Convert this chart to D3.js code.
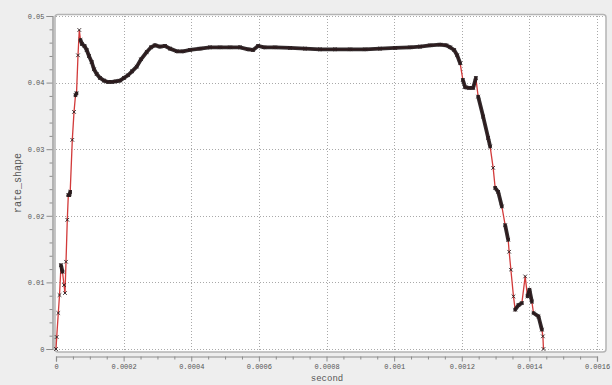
<!DOCTYPE html>
<html>
<head>
<meta charset="utf-8">
<script src="https://cdn.jsdelivr.net/npm/d3@7/dist/d3.min.js"></script>
<style>
  html, body { margin: 0; padding: 0; background: #eeeeee; }
  svg { display: block; }
</style>
</head>
<body>
<svg id="chart" width="612" height="385"></svg>
<script>
// Sample times (seconds) of the rate shape trace
const timeSec = [
  0, 2.1e-6, 6.8e-6, 10.4e-6, 14.8e-6, 19.2e-6, 23.7e-6, 26.6e-6, 29.6e-6, 33.4e-6,
  36.4e-6, 39.3e-6, 42.0e-6, 48.2e-6, 53.3e-6, 57.7e-6, 60.7e-6, 65.1e-6, 68.9e-6, 72.5e-6,
  76.9e-6, 84.3e-6, 90.8e-6, 97.6e-6, 105.6e-6, 112.4e-6, 120.4e-6, 130.2e-6, 142.0e-6, 153.8e-6,
  165.7e-6, 177.5e-6, 189.3e-6, 201.2e-6, 213.0e-6, 224.9e-6, 238.8e-6, 251.5e-6, 268.3e-6, 281.1e-6,
  292.9e-6, 307.7e-6, 322.5e-6, 337.3e-6, 357.1e-6, 375.7e-6, 396.4e-6, 426.0e-6, 455.6e-6, 485.2e-6,
  514.8e-6, 544.4e-6, 568.1e-6, 582.8e-6, 597.6e-6, 615.4e-6, 647.9e-6, 692.3e-6, 736.7e-6, 781.1e-6,
  825.5e-6, 869.8e-6, 914.2e-6, 958.6e-6, 1003.0e-6, 1047.3e-6, 1076.9e-6, 1106.5e-6, 1136.1e-6, 1153.8e-6,
  1165.7e-6, 1177.5e-6, 1186.4e-6, 1195.3e-6, 1203.3e-6, 1210.1e-6, 1221.9e-6, 1233.7e-6, 1241.7e-6, 1248.5e-6,
  1263.3e-6, 1278.1e-6, 1284.0e-6, 1292.9e-6, 1298.8e-6, 1307.7e-6, 1318.6e-6, 1328.4e-6, 1337.3e-6, 1340.2e-6,
  1345.3e-6, 1353.0e-6, 1358.0e-6, 1367.8e-6, 1377.8e-6, 1387.6e-6, 1394.4e-6, 1400.3e-6, 1407.4e-6, 1412.2e-6,
  1426.9e-6, 1437.0e-6, 1440.0e-6, 1441.7e-6
];

// Rate shape values at those times
const rateShape = [
  0, 0.0018, 0.0054, 0.0081, 0.0126, 0.0116, 0.0096, 0.0084, 0.0131, 0.0194,
  0.0231, 0.0231, 0.0236, 0.0314, 0.0356, 0.0381, 0.0384, 0.0441, 0.0479, 0.0464,
  0.0458, 0.0455, 0.0449, 0.0440, 0.0431, 0.0420, 0.0413, 0.0407, 0.0403, 0.0401,
  0.0401, 0.0402, 0.0403, 0.0407, 0.0411, 0.0417, 0.0424, 0.0435, 0.0446, 0.0453,
  0.0456, 0.0454, 0.0455, 0.0451, 0.0447, 0.0447, 0.0449, 0.0451, 0.0453, 0.0453,
  0.0453, 0.0453, 0.0450, 0.0449, 0.0455, 0.0453, 0.0453, 0.0452, 0.0451, 0.0450,
  0.0450, 0.0450, 0.0450, 0.0451, 0.0452, 0.0453, 0.0454, 0.0456, 0.0457, 0.0456,
  0.0453, 0.0449, 0.0441, 0.0429, 0.0404, 0.0393, 0.0392, 0.0392, 0.0407, 0.0379,
  0.0349, 0.0317, 0.0304, 0.0272, 0.0242, 0.0236, 0.0214, 0.0186, 0.0164, 0.0146,
  0.0119, 0.0079, 0.0059, 0.0066, 0.0069, 0.0109, 0.0079, 0.0089, 0.0071, 0.0054,
  0.0049, 0.0029, 0.0019, 0
];

// Axis ticks
const xMajorTicks = [0, 0.0002, 0.0004, 0.0006, 0.0008, 0.001, 0.0012, 0.0014, 0.0016];
const xTickLabels = ["0", "0.0002", "0.0004", "0.0006", "0.0008", "0.001", "0.0012", "0.0014", "0.0016"];
const yMajorTicks = [0, 0.01, 0.02, 0.03, 0.04, 0.05];
const yTickLabels = ["0", "0.01", "0.02", "0.03", "0.04", "0.05"];
const xMinorStep = 0.00005;
const yMinorStep = 0.002;

const xTitle = "second";
const yTitle = "rate_shape";

const data = timeSec.map((t, i) => ({ t, v: rateShape[i] }));

const svg = d3.select("#chart");
const W = 612, H = 385;

const x = d3.scaleLinear().domain([0, 0.0016]).range([56, 597]);
const y = d3.scaleLinear().domain([0, 0.05]).range([349, 16]);

svg.append("rect").attr("width", W).attr("height", H).attr("fill", "#eeeeee");

// Plot frame
svg.append("rect")
  .attr("x", 55).attr("y", 14.5).attr("width", 551).attr("height", 337.5)
  .attr("rx", 3).attr("fill", "#ffffff")
  .attr("stroke", "#b4b4b4").attr("stroke-width", 1.5);

// Dotted grid
const grid = svg.append("g").attr("stroke", "#a9a9a9").attr("stroke-width", 1)
  .attr("stroke-dasharray", "1,2").attr("fill", "none");
xMajorTicks.slice(1).forEach(t => {
  grid.append("line").attr("x1", Math.round(x(t)) + 0.5).attr("x2", Math.round(x(t)) + 0.5)
    .attr("y1", 16).attr("y2", 351);
});
yMajorTicks.forEach(v => {
  grid.append("line").attr("x1", 56).attr("x2", 605)
    .attr("y1", Math.round(y(v)) + 0.5).attr("y2", Math.round(y(v)) + 0.5);
});

// Minor tick positions
const xMinor = d3.range(0, 0.0016 + 1e-9, xMinorStep).filter(t => !xMajorTicks.some(m => Math.abs(m - t) < 1e-9));
const yMinor = d3.range(0, 0.05 + 1e-9, yMinorStep).filter(v => !yMajorTicks.some(m => Math.abs(m - v) < 1e-9));

const tickFont = "'Liberation Mono', 'DejaVu Sans Mono', monospace";

// X axis
const xAxisG = svg.append("g").attr("transform", "translate(0,356.5)");
xAxisG.call(d3.axisBottom(x).tickValues(xMajorTicks).tickSize(5).tickPadding(3)
  .tickFormat((d, i) => xTickLabels[i]));
xAxisG.append("g").call(d3.axisBottom(x).tickValues(xMinor).tickSize(3).tickFormat(""))
  .select(".domain").remove();

// Y axis
const yAxisG = svg.append("g").attr("transform", "translate(52.5,0)");
yAxisG.call(d3.axisLeft(y).tickValues(yMajorTicks).tickSize(6).tickPadding(2)
  .tickFormat((d, i) => yTickLabels[i]));
yAxisG.append("g").call(d3.axisLeft(y).tickValues(yMinor).tickSize(3).tickFormat(""))
  .select(".domain").remove();

[xAxisG, yAxisG].forEach(g => {
  g.selectAll(".domain").attr("stroke", "#8c8c8c").attr("stroke-width", 1.2);
  g.selectAll("line").attr("stroke", "#8c8c8c");
  g.selectAll("text").attr("font-family", tickFont).attr("font-size", 7).attr("fill", "#555");
});

// Axis titles
svg.append("text").attr("x", 327).attr("y", 381).attr("text-anchor", "middle")
  .attr("font-family", tickFont).attr("font-size", 9).attr("fill", "#555").text(xTitle);
svg.append("text").attr("transform", "translate(21,183) rotate(-90)").attr("text-anchor", "middle")
  .attr("font-family", tickFont).attr("font-size", 10).attr("fill", "#555").text(yTitle);

// Trace: thin red line through the samples
const line = d3.line().x(d => x(d.t)).y(d => y(d.v));
svg.append("path").datum(data).attr("d", line)
  .attr("fill", "none").attr("stroke", "#d23a3a").attr("stroke-width", 1.3);

// Densely sampled stretches form a thick dark band; steep jumps stay thin
const band = svg.append("g").attr("stroke", "#1c1416").attr("stroke-linecap", "round").attr("opacity", 0.9);
for (let i = 0; i < data.length - 1; i++) {
  const a = data[i], b = data[i + 1];
  const dx = Math.abs(x(b.t) - x(a.t)), dy = Math.abs(y(b.v) - y(a.v));
  const steep = dy > 5.5 * Math.max(dx, 0.3);
  if (steep) continue;
  band.append("line")
    .attr("x1", x(a.t)).attr("y1", y(a.v)).attr("x2", x(b.t)).attr("y2", y(b.v))
    .attr("stroke-width", 3.8);
}

// Sample markers
const mk = svg.append("g").attr("stroke", "#2a1a1c").attr("stroke-width", 0.9);
data.forEach(d => {
  const cx = x(d.t), cy = y(d.v);
  mk.append("path").attr("d", `M${cx - 1.8},${cy - 1.8}L${cx + 1.8},${cy + 1.8}M${cx - 1.8},${cy + 1.8}L${cx + 1.8},${cy - 1.8}`);
});
</script>
</body>
</html>
